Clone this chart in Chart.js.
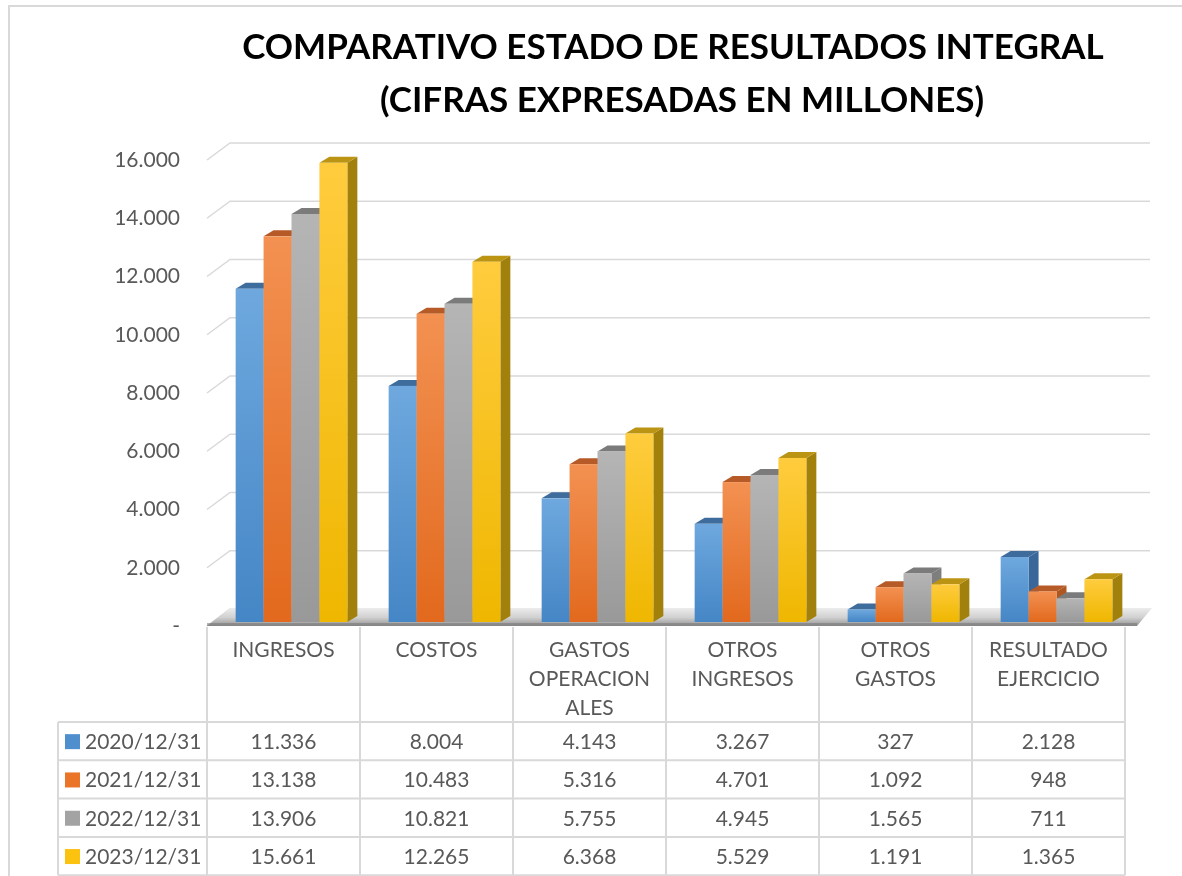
<!DOCTYPE html>
<html>
<head>
<meta charset="utf-8">
<script src="https://cdn.jsdelivr.net/npm/chart.js@4.4.1/dist/chart.umd.min.js"></script>
<style>
  html,body{margin:0;padding:0;background:#fff;}
  #wrap{width:1182px;height:876px;position:relative;}
</style>
</head>
<body>
<div id="wrap"><canvas id="c" width="1182" height="876"></canvas></div>
<script>
// ── datos ──
var categories = [['INGRESOS'],['COSTOS'],['GASTOS','OPERACION','ALES'],['OTROS','INGRESOS'],['OTROS','GASTOS'],['RESULTADO','EJERCICIO']];
var seriesNames = ['2020/12/31','2021/12/31','2022/12/31','2023/12/31'];
var v2020 = [11336, 8004, 4143, 3267, 327, 2128];
var v2021 = [13138, 10483, 5316, 4701, 1092, 948];
var v2022 = [13906, 10821, 5755, 4945, 1565, 711];
var v2023 = [15661, 12265, 6368, 5529, 1191, 1365];
var yTicks = [0, 2000, 4000, 6000, 8000, 10000, 12000, 14000, 16000];
var titleLines = ['COMPARATIVO ESTADO DE RESULTADOS INTEGRAL', '(CIFRAS EXPRESADAS EN MILLONES)'];

// colores: frente (arriba, abajo), tapa, lado
var palette = [
  {front:['#6ea8de','#4586c6'], top:'#3e6c9c', side:'#39679a', key:'#4f8fce'},
  {front:['#f39152','#e2691d'], top:'#b65a27', side:'#b0571f', key:'#ea7428'},
  {front:['#b5b5b5','#999999'], top:'#7b7b7b', side:'#7e7e7e', key:'#a3a3a3'},
  {front:['#ffcc3e','#efb700'], top:'#bc9414', side:'#a2800c', key:'#fcc210'}
];
var allValues = [v2020, v2021, v2022, v2023];

function fmt(v){ if(v===0) return '-'; return String(v).replace(/\B(?=(\d{3})+(?!\d))/g,'.'); }

var WALL = {x:23, y:-17};   // profundidad de pared / piso
var BAR = {x:10, y:-6};     // profundidad de cada barra
var SHIFT = {x:8, y:-7};    // barras en la mitad del piso
var FONT = 'Lato, "Open Sans", sans-serif';
var TXT = '#595959';
var LINE = '#d9d9d9';

var threeD = {
  id:'threeD',
  beforeDatasetsDraw:function(chart){
    var ctx = chart.ctx, a = chart.chartArea, ys = chart.scales.y;
    ctx.save();
    ctx.strokeStyle = LINE; ctx.lineWidth = 1.5;
    yTicks.forEach(function(t){
      var y = ys.getPixelForValue(t);
      ctx.beginPath();
      ctx.moveTo(a.left, y);
      ctx.lineTo(a.left+WALL.x, y+WALL.y);
      ctx.lineTo(a.right+WALL.x+2, y+WALL.y);
      ctx.stroke();
    });
    // piso
    var b = ys.getPixelForValue(0) - 3;
    var g = ctx.createLinearGradient(0, b+WALL.y, 0, b+4);
    g.addColorStop(0,'#f2f2f2'); g.addColorStop(0.55,'#d0d0d0'); g.addColorStop(1,'#8c8c8c');
    ctx.fillStyle = g;
    ctx.beginPath();
    ctx.moveTo(a.left, b+3);
    ctx.lineTo(a.right+12, b+3);
    ctx.lineTo(a.right+WALL.x+4, b+WALL.y+2);
    ctx.lineTo(a.left+WALL.x, b+WALL.y+2);
    ctx.closePath(); ctx.fill();
    ctx.fillStyle = 'rgba(120,120,120,0.55)';
    ctx.fillRect(a.left, b, a.right+12-a.left, 3);
    ctx.restore();
  },
  afterDatasetsDraw:function(chart){
    var ctx = chart.ctx;
    ctx.save();
    var n = chart.data.labels.length;
    for(var j=0;j<n;j++){
      for(var d=0; d<chart.data.datasets.length; d++){
        var el = chart.getDatasetMeta(d).data[j];
        var p = palette[d];
        var x0 = el.x - el.width/2 + SHIFT.x, x1 = el.x + el.width/2 + SHIFT.x;
        var yt = el.y + SHIFT.y, yb = el.base + SHIFT.y + 3;
        // lado
        ctx.fillStyle = p.side;
        ctx.beginPath();
        ctx.moveTo(x1, yb); ctx.lineTo(x1, yt); ctx.lineTo(x1+BAR.x, yt+BAR.y); ctx.lineTo(x1+BAR.x, yb+BAR.y);
        ctx.closePath(); ctx.fill();
        // tapa
        ctx.fillStyle = p.top;
        ctx.beginPath();
        ctx.moveTo(x0, yt); ctx.lineTo(x1, yt); ctx.lineTo(x1+BAR.x, yt+BAR.y); ctx.lineTo(x0+BAR.x, yt+BAR.y);
        ctx.closePath(); ctx.fill();
        // frente
        var g = ctx.createLinearGradient(0, yt, 0, yb);
        g.addColorStop(0, p.front[0]); g.addColorStop(1, p.front[1]);
        ctx.fillStyle = g;
        ctx.fillRect(x0, yt, x1-x0, yb-yt);
      }
    }
    ctx.restore();
  },
  afterDraw:function(chart){
    var ctx = chart.ctx, a = chart.chartArea, xs = chart.scales.x;
    var n = chart.data.labels.length;
    var half = (a.right-a.left)/n/2;
    var headTop = 627, rowTop = 722, rowH = 38.3, tableLeft = 58;
    var rows = seriesNames.length, bottom = rowTop + rowH*rows;
    ctx.save();
    // marco exterior
    ctx.strokeStyle = LINE; ctx.lineWidth = 2;
    ctx.beginPath(); ctx.moveTo(9, 880); ctx.lineTo(9, 6); ctx.lineTo(1190, 6); ctx.stroke();
    // título
    ctx.fillStyle = '#000'; ctx.textAlign = 'center'; ctx.textBaseline = 'middle';
    var fs = 40;
    ctx.font = 'bold '+fs+'px '+FONT;
    var w = ctx.measureText(titleLines[0]).width;
    fs = Math.floor(fs*879/w);
    ctx.font = 'bold '+fs+'px '+FONT;
    ctx.fillText(titleLines[0], 673, 48);
    ctx.fillText(titleLines[1], 682, 101);
    // tabla
    ctx.strokeStyle = LINE; ctx.lineWidth = 2;
    ctx.beginPath();
    for(var j=0;j<=n;j++){
      var x = (j<n ? xs.getPixelForValue(j)-half : xs.getPixelForValue(n-1)+half);
      ctx.moveTo(x, headTop); ctx.lineTo(x, bottom);
    }
    ctx.moveTo(tableLeft, rowTop); ctx.lineTo(tableLeft, bottom);
    for(var r=0;r<=rows;r++){
      var y = rowTop + rowH*r;
      ctx.moveTo(tableLeft, y); ctx.lineTo(a.right, y);
    }
    ctx.stroke();
    ctx.fillStyle = TXT; ctx.font = '21px '+FONT;
    for(j=0;j<n;j++){
      var cx = xs.getPixelForValue(j);
      categories[j].forEach(function(line, k){ ctx.fillText(line, cx, 650 + k*29); });
      for(r=0;r<rows;r++) ctx.fillText(fmt(allValues[r][j]), cx, rowTop + rowH*r + rowH/2 + 1);
    }
    ctx.textAlign = 'left';
    for(r=0;r<rows;r++){
      var cy = rowTop + rowH*r + rowH/2;
      ctx.fillStyle = palette[r].key;
      ctx.fillRect(65, cy-7, 15, 15);
      ctx.fillStyle = TXT;
      ctx.fillText(seriesNames[r], 85, cy+1);
    }
    ctx.restore();
  }
};

var datasets = seriesNames.map(function(name, i){
  return {label:name, data:allValues[i], backgroundColor:'rgba(0,0,0,0)', borderWidth:0,
          categoryPercentage:0.73, barPercentage:1};
});

new Chart(document.getElementById('c'), {
  type:'bar',
  data:{labels:categories, datasets:datasets},
  options:{
    responsive:false, animation:false,
    layout:{padding:{top:160, right:57, bottom:250, left:0}},
    plugins:{legend:{display:false}, title:{display:false}, tooltip:{enabled:false}},
    scales:{
      x:{grid:{display:false, drawTicks:false}, border:{display:false}, ticks:{display:false},
         afterFit:function(s){ s.height = 0; }},
      y:{min:0, max:16000, grid:{display:false, drawTicks:false}, border:{display:false},
         afterFit:function(s){ s.width = 207; },
         afterBuildTicks:function(s){ s.ticks = yTicks.map(function(v){ return {value:v}; }); },
         ticks:{padding:27, color:TXT, font:{family:FONT, size:21}, callback:function(v){ return fmt(v); }}}
    }
  },
  plugins:[threeD]
});
</script>
</body>
</html>
